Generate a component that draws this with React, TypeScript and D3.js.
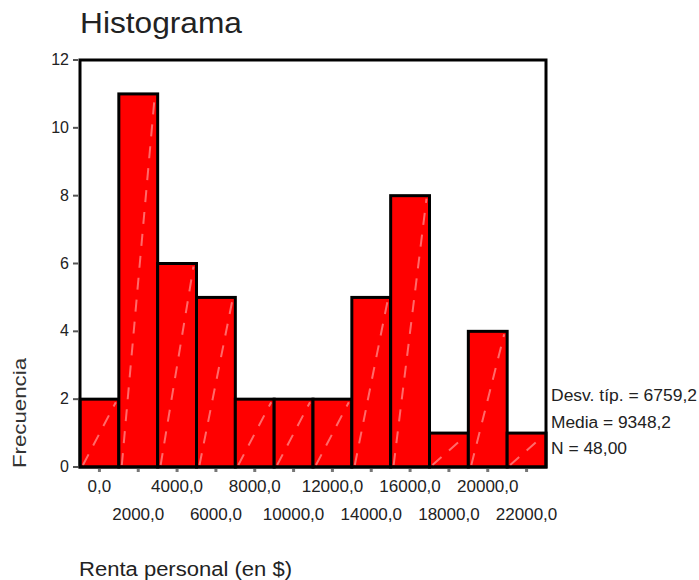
import React from "react";
import * as d3 from "d3";

const binCenters = [0, 2000, 4000, 6000, 8000, 10000, 12000, 14000, 16000, 18000, 20000, 22000];
const counts = [2, 11, 6, 5, 2, 2, 2, 5, 8, 1, 4, 1];
const xTickLabels = ["0,0", "2000,0", "4000,0", "6000,0", "8000,0", "10000,0", "12000,0", "14000,0", "16000,0", "18000,0", "20000,0", "22000,0"];
const yTicks = [0, 2, 4, 6, 8, 10, 12];
const statsLines = ["Desv. típ. = 6759,2", "Media = 9348,2", "N = 48,00"];
const statsWidths = [146, 120, 76];
const binWidth = 2000;

const W = 699;
const H = 580;
const plot = { left: 80, top: 60, right: 546, bottom: 467 };
const FONT = "'Liberation Sans', Arial, sans-serif";

export default function App() {
  const x = d3.scaleLinear().domain([-1000, 23000]).range([plot.left, plot.right]);
  const y = d3.scaleLinear().domain([0, 12]).range([plot.bottom, plot.top]);

  return (
    <svg width={W} height={H} style={{ position: "absolute", left: 0, top: 0, background: "#fff" }} fontFamily={FONT}>
      <text x={80} y={33} fontSize={29} fill="#222" textLength={162} lengthAdjust="spacingAndGlyphs">Histograma</text>

      {binCenters.map((c, i) => {
        const x0 = x(c - binWidth / 2);
        const x1 = x(c + binWidth / 2);
        const yt = y(counts[i]);
        return (
          <g key={i}>
            <rect x={x0} y={yt} width={x1 - x0} height={plot.bottom - yt} fill="#ff0000" stroke="#000" strokeWidth={3} />
            <line x1={x0 + 3} y1={plot.bottom - 2} x2={x1 - 3} y2={yt + 3} stroke="#ff6a6a" strokeWidth={2} strokeDasharray="12,10" />
          </g>
        );
      })}

      <rect x={plot.left} y={plot.top} width={plot.right - plot.left} height={plot.bottom - plot.top} fill="none" stroke="#000" strokeWidth={3} />

      {yTicks.map((t) => (
        <g key={t}>
          <line x1={73} x2={78} y1={y(t)} y2={y(t)} stroke="#555" strokeWidth={2} />
          <text x={69} y={y(t) + 5} fontSize={16} textAnchor="end" fill="#222">{t}</text>
        </g>
      ))}

      {binCenters.map((c, i) => (
        <g key={"xt" + i}>
          <line x1={x(c)} x2={x(c)} y1={plot.bottom + 2} y2={plot.bottom + 5} stroke="#777" strokeWidth={3} />
          <text x={x(c)} y={i % 2 === 0 ? 492 : 520} fontSize={17} textAnchor="middle" fill="#222">{xTickLabels[i]}</text>
        </g>
      ))}

      <text transform="translate(26,413) rotate(-90)" fontSize={18} textAnchor="middle" fill="#333" textLength={110} lengthAdjust="spacingAndGlyphs">Frecuencia</text>
      <text x={79} y={576} fontSize={20} fill="#222" textLength={213} lengthAdjust="spacingAndGlyphs">Renta personal (en $)</text>

      {statsLines.map((s, i) => (
        <text key={s} x={551} y={401 + i * 26.5} fontSize={16} fill="#222" textLength={statsWidths[i]} lengthAdjust="spacingAndGlyphs">{s}</text>
      ))}
    </svg>
  );
}
